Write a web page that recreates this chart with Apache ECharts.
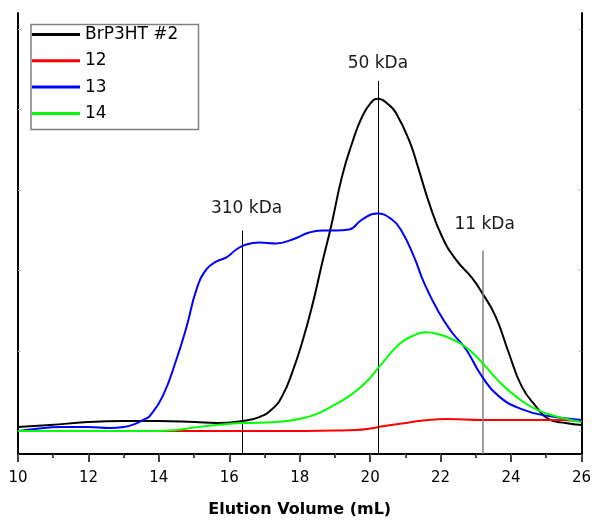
<!DOCTYPE html>
<html>
<head>
<meta charset="utf-8">
<title>Elution profiles</title>
<script src="https://cdn.jsdelivr.net/npm/echarts@6/dist/echarts.min.js"></script>
<style>
  html, body { margin: 0; padding: 0; background: #fff; }
  #chart { width: 594px; height: 523px; }
</style>
</head>
<body>
<div id="chart"></div>
<script>
// Elution volume (mL) vs detector signal (arbitrary units)
const seriesNames = ['BrP3HT #2', '12', '13', '14'];

const brp3htData = [
  [10.00, 27], [10.91, 29], [11.98, 32], [13.00, 33], [13.99, 33], [15.01, 32],
  [15.64, 31], [16.37, 33], [16.85, 37], [17.22, 45], [17.50, 58], [17.79, 82],
  [18.07, 112], [18.35, 148], [18.64, 192], [18.89, 228], [19.20, 278], [19.49, 312],
  [19.77, 338], [20.02, 352], [20.22, 356], [20.53, 350], [20.73, 342], [21.10, 315],
  [21.38, 285], [21.67, 252], [22.04, 218], [22.43, 195], [22.88, 177], [23.17, 162],
  [23.56, 138], [23.93, 102], [24.30, 68], [24.70, 48], [25.07, 35], [25.55, 31],
  [26.00, 29]
];

const sample12Data = [
  [10.00, 23], [12.00, 23], [14.00, 23], [16.00, 23], [17.70, 23], [19.00, 23.5],
  [19.60, 24], [20.00, 25.5], [20.40, 28], [20.90, 30.5], [21.50, 33.5], [22.20, 35],
  [23.20, 34], [24.22, 34], [25.21, 34], [26.00, 33]
];

const sample13Data = [
  [10.00, 23], [10.48, 25], [11.19, 27], [11.98, 27], [12.61, 26], [13.00, 27],
  [13.31, 30], [13.60, 35], [13.74, 38], [14.11, 58], [14.50, 95], [14.79, 128],
  [15.07, 165], [15.35, 185], [15.64, 193], [15.92, 197], [16.20, 205], [16.48, 210],
  [16.85, 212], [17.33, 211], [17.79, 215], [18.27, 222], [18.64, 224], [19.03, 224],
  [19.40, 225], [19.77, 235], [20.19, 241], [20.62, 235], [20.90, 223], [21.24, 198],
  [21.55, 170], [21.95, 142], [22.32, 122], [22.72, 105], [23.17, 78], [23.65, 58],
  [24.30, 45], [25.07, 38], [26.00, 34]
];

const sample14Data = [
  [10.00, 23], [12.00, 23], [14.00, 23], [14.50, 24], [15.00, 26.5], [15.64, 29],
  [16.37, 31], [17.33, 32], [17.99, 35], [18.47, 40], [18.92, 48], [19.40, 58],
  [19.88, 72], [20.25, 87], [20.82, 110], [21.19, 118], [21.58, 122], [21.95, 120],
  [22.32, 115], [22.72, 107], [23.17, 92], [23.65, 73], [24.13, 58], [24.70, 45],
  [25.35, 37], [26.00, 32]
];

// Calibration standards: elution volume, label
const standardVolumes = [16.38, 20.22, 23.20];
const standardLabels = ['310 kDa', '50 kDa', '11 kDa'];
const standardLineTops = [224, 374, 204];
const standardLabelY = [246, 391, 230];
const standardLabelX = [16.49, 20.22, 23.25];
const standardColors = ['#000000', '#000000', '#808080'];

const xTickLabels = ['10', '12', '14', '16', '18', '20', '22', '24', '26'];

const seriesColors = ['#000000', '#ff0000', '#0000ff', '#00ff00'];
const seriesData = [brp3htData, sample12Data, sample13Data, sample14Data];

const labelFont = 'DejaVu Sans';

const chart = echarts.init(document.getElementById('chart'), null, { renderer: 'canvas' });

const series = seriesNames.map((name, i) => ({
  name,
  type: 'line',
  data: seriesData[i],
  symbol: 'none',
  smooth: true,
  lineStyle: { color: seriesColors[i], width: 2 },
  itemStyle: { color: seriesColors[i] },
  z: 3 + i,
  animation: false
}));

// Standard markers drawn as vertical lines with labels above them
series.push({
  name: 'standards',
  type: 'line',
  data: [],
  symbol: 'none',
  silent: true,
  animation: false,
  markLine: {
    symbol: ['none', 'none'],
    silent: true,
    animation: false,
    label: { show: false },
    data: standardVolumes.map((v, i) => [
      { coord: [v, standardLineTops[i]], lineStyle: { color: standardColors[i], width: i === 2 ? 1.5 : 1, type: 'solid' } },
      { coord: [v, 0] }
    ])
  },
  markPoint: {
    symbol: 'rect',
    symbolSize: 1,
    silent: true,
    animation: false,
    itemStyle: { color: 'rgba(0,0,0,0)' },
    label: {
      show: true,
      position: 'inside',
      color: '#1a1a1a',
      fontFamily: labelFont,
      fontSize: 17
    },
    data: standardLabels.map((t, i) => ({
      coord: [standardLabelX[i], standardLabelY[i]],
      value: t,
      label: { formatter: t }
    }))
  }
});

const option = {
  backgroundColor: '#ffffff',
  animation: false,
  grid: { left: 18, right: 11, top: 13, bottom: 68, containLabel: false },
  legend: {
    data: seriesNames,
    orient: 'vertical',
    left: 32,
    top: 26,
    padding: 0,
    itemWidth: 48,
    itemHeight: 3,
    itemGap: 9.3,
    icon: 'rect',
    textStyle: { fontFamily: labelFont, fontSize: 17, color: '#000', lineHeight: 17 }
  },
  graphic: [{
    type: 'rect',
    left: 28.5,
    top: 22,
    shape: { width: 167.5, height: 105 },
    style: { fill: 'none', stroke: '#7f7f7f', lineWidth: 1.5 },
    z: 10
  }],
  xAxis: [{
    type: 'value',
    position: 'bottom',
    min: 10,
    max: 26,
    interval: 2,
    name: 'Elution Volume (mL)',
    nameLocation: 'middle',
    nameGap: 48,
    nameTextStyle: { fontFamily: labelFont, fontSize: 16, fontWeight: 'bold', color: '#000' },
    axisLine: { show: true, lineStyle: { color: '#000', width: 2 } },
    axisTick: { show: true, inside: false, length: 8, lineStyle: { color: '#000', width: 1.5 } },
    minorTick: { show: true, splitNumber: 2, length: 4, lineStyle: { color: '#000', width: 1.5 } },
    axisLabel: {
      margin: 17,
      color: '#000',
      fontFamily: labelFont,
      fontSize: 15,
      formatter: (v) => xTickLabels[Math.round((v - 10) / 2)] ?? ''
    },
    splitLine: { show: false }
  }, {
    type: 'value',
    position: 'top',
    min: 10,
    max: 26,
    interval: 1,
    axisLine: { show: true, lineStyle: { color: '#000', width: 2 } },
    axisTick: { show: true, inside: true, length: 3, lineStyle: { color: '#666', width: 1 } },
    axisLabel: { show: false },
    splitLine: { show: false }
  }],
  yAxis: [{
    type: 'value',
    position: 'left',
    min: 0,
    max: 442,
    axisLine: { show: true, lineStyle: { color: '#000', width: 2 } },
    axisTick: {
      show: true, inside: true, length: 3,
      customValues: [22.7, 103.3, 183.9, 264.5, 345.1, 425.7],
      lineStyle: { color: '#bbbbbb', width: 1 }
    },
    axisLabel: { show: false },
    splitLine: { show: false }
  }, {
    type: 'value',
    position: 'right',
    min: 0,
    max: 442,
    axisLine: { show: true, lineStyle: { color: '#000', width: 2 } },
    axisTick: {
      show: true, inside: true, length: 3,
      customValues: [22.7, 103.3, 183.9, 264.5, 345.1, 425.7],
      lineStyle: { color: '#bbbbbb', width: 1 }
    },
    axisLabel: { show: false },
    splitLine: { show: false }
  }],
  series
};

chart.setOption(option);
</script>
</body>
</html>
